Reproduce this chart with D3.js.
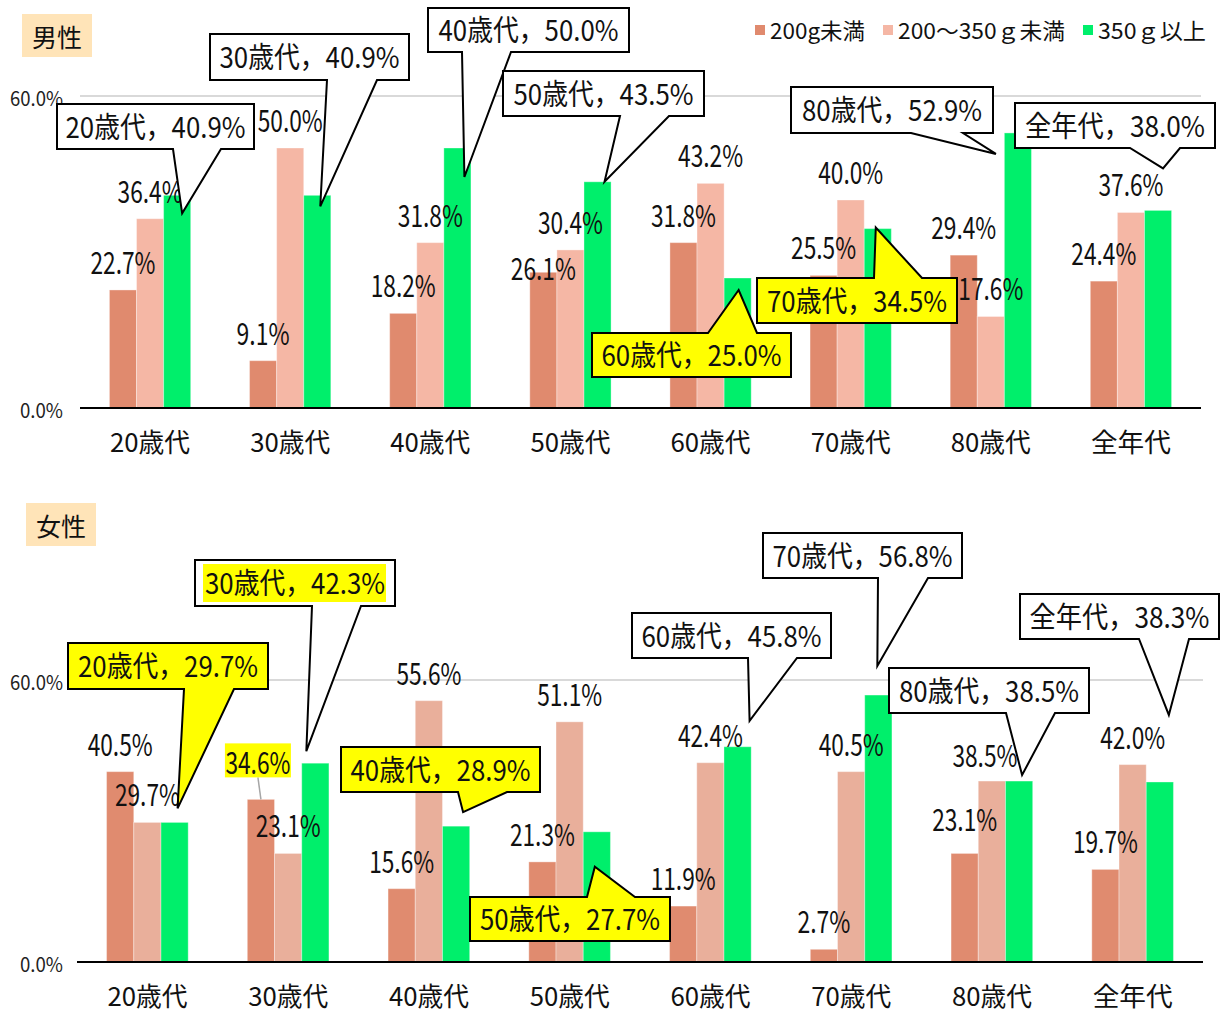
<!DOCTYPE html>
<html>
  <head>
    <meta charset="utf-8">
    <title>野菜摂取量 男女別・年代別</title>
    <script src="https://d3js.org/d3.v7.min.js"></script>
    <style>
      body { margin: 0; background: #fff; }
      svg { display: block; }
    </style>
  </head>
  <body>
    <svg width="1229" height="1012"></svg>
    <script>
      // categories
      const ages = ["20歳代", "30歳代", "40歳代", "50歳代", "60歳代", "70歳代", "80歳代", "全年代"];
      const seriesNames = ["200g未満", "200～350ｇ未満", "350ｇ以上"];
      const yTicks = [0, 60];

      // 男性 (%)
      const maleUnder200 = [22.7, 9.1, 18.2, 26.1, 31.8, 25.5, 29.4, 24.4];
      const maleMid = [36.4, 50.0, 31.8, 30.4, 43.2, 40.0, 17.6, 37.6];
      const maleOver350 = [40.9, 40.9, 50.0, 43.5, 25.0, 34.5, 52.9, 38.0];

      // 女性 (%)
      const femaleUnder200 = [40.5, 34.6, 15.6, 21.3, 11.9, 2.7, 23.1, 19.7];
      const femaleMid = [29.7, 23.1, 55.6, 51.1, 42.4, 40.5, 38.5, 42.0];
      const femaleOver350 = [29.7, 42.3, 28.9, 27.7, 45.8, 56.8, 38.5, 38.3];

      const FONT = "'Noto Sans CJK JP', sans-serif";

      const svg = d3.select("svg");

      // callout boxes for the 350g series (box in px, base of the pointer, tip offset from bar top)
      const maleCallouts = [
        {box: [57, 104, 197, 45], side: "bottom", base: [173, 221], tip: [5, 18], fill: "#fff"},
        {box: [210, 34, 199, 46], side: "bottom", base: [327, 377], tip: [3, 11], fill: "#fff"},
        {box: [428, 8, 201, 44], side: "bottom", base: [462, 511], tip: [7, 29], fill: "#fff"},
        {box: [503, 71, 201, 45], side: "bottom", base: [620, 669], tip: [7, 0], fill: "#fff"},
        {box: [592, 333, 199, 44], side: "top", base: [708, 757], tip: [1, 12], fill: "#ffff00"},
        {box: [757, 278, 200, 45], side: "top", base: [874, 922], tip: [-2, -1], fill: "#ffff00"},
        {box: [791, 87, 202, 46], side: "bottom", base: [911, 963], tip: [-22, 21], fill: "#fff"},
        {box: [1015, 103, 200, 45], side: "bottom", base: [1130, 1180], tip: [5, -42], fill: "#fff"}
      ];
      const femaleCallouts = [
        {box: [68, 643, 200, 46], side: "bottom", base: [184, 234], tip: [3, -14], fill: "#ffff00"},
        {box: [195, 560, 200, 46], side: "bottom", base: [312, 361], tip: [-9, -12], fill: "#fff", mark: true},
        {box: [341, 747, 199, 45], side: "bottom", base: [458, 507], tip: [7, -14], fill: "#ffff00"},
        {box: [470, 897, 200, 44], side: "top", base: [587, 635], tip: [-2, 35], fill: "#ffff00"},
        {box: [632, 613, 199, 45], side: "bottom", base: [748, 797], tip: [12, -26], fill: "#fff"},
        {box: [763, 533, 199, 45], side: "bottom", base: [878, 928], tip: [-1, -29], fill: "#fff"},
        {box: [889, 668, 200, 45], side: "bottom", base: [1006, 1055], tip: [3, -6], fill: "#fff"},
        {box: [1020, 594, 199, 45], side: "bottom", base: [1139, 1189], tip: [9, -67], fill: "#fff"}
      ];

      // label nudges: [series, category, dx, dy, options]
      const maleNudges = [[0, 3, 0, 24]];
      const femaleNudges = [[0, 1, -3, -9, {mark: true, leader: true}], [0, 6, 0, -6], [1, 6, -7, 2]];

      // squeeze a numeric label the way the narrow digits of the original look
      const numWidth = (s, per, extra) => s.replace(/[^0-9]/g, "").length * per + extra;

      function drawPanel(p) {
        const g = svg.append("g");

        const x0 = d3.scaleBand().domain(ages).range(p.xRange).paddingInner(0.42).paddingOuter(0.21);
        const x1 = d3.scaleBand().domain(d3.range(3)).range([0, x0.bandwidth()]);
        const y = d3.scaleLinear().domain([0, 60]).range([p.base, p.top]);

        // title
        g.append("rect").attr("x", p.title[0]).attr("y", p.title[1]).attr("width", 70).attr("height", 43)
          .attr("fill", "#ffe4b8");
        g.append("text").attr("x", p.title[0] + 35).attr("y", p.title[1] + 22)
          .attr("text-anchor", "middle").attr("dominant-baseline", "central")
          .attr("font-family", FONT).attr("font-size", 25).attr("fill", "#111").text(p.name);

        // gridline + y labels
        g.selectAll(".grid").data(yTicks.filter(d => d > 0)).join("line")
          .attr("x1", p.xRange[0]).attr("x2", p.xRange[1])
          .attr("y1", d => y(d)).attr("y2", d => y(d))
          .attr("stroke", "#d9d9d9").attr("stroke-width", 2);
        g.selectAll(".ytick").data(yTicks).join("text")
          .attr("x", 63).attr("y", d => y(d) + 1)
          .attr("text-anchor", "end").attr("dominant-baseline", "central")
          .attr("font-family", FONT).attr("font-size", 20).attr("fill", "#222")
          .attr("lengthAdjust", "spacingAndGlyphs")
          .attr("textLength", d => numWidth(d.toFixed(1), 10, 23))
          .text(d => d.toFixed(1) + "%");

        // bars
        const rows = [];
        p.series.forEach((vals, s) => vals.forEach((v, i) => rows.push({s, i, v})));
        const barX = d => x0(ages[d.i]) + x1(d.s);
        g.selectAll(".bar").data(rows).join("rect")
          .attr("x", barX).attr("width", x1.bandwidth())
          .attr("y", d => y(d.v)).attr("height", d => y(0) - y(d.v))
          .attr("fill", d => p.colors[d.s])
          .attr("stroke", "#fff").attr("stroke-opacity", 0.35).attr("stroke-width", 1);

        // x axis
        g.append("line").attr("x1", p.xRange[0]).attr("x2", p.xRange[1])
          .attr("y1", y(0)).attr("y2", y(0)).attr("stroke", "#000").attr("stroke-width", 2);
        g.selectAll(".xlab").data(ages).join("text")
          .attr("x", d => x0(d) + x0.bandwidth() / 2).attr("y", y(0) + 32)
          .attr("text-anchor", "middle").attr("dominant-baseline", "central")
          .attr("font-family", FONT).attr("font-size", 26).attr("fill", "#111")
          .attr("lengthAdjust", "spacingAndGlyphs").attr("textLength", 80)
          .text(d => d);

        // data labels for the first two series
        const nudge = {};
        p.nudges.forEach(n => nudge[n[0] + "-" + n[1]] = n);
        const labels = rows.filter(d => d.s < 2).map(d => {
          const n = nudge[d.s + "-" + d.i] || [0, 0, 0, 0, {}];
          const cx = barX(d) + x1.bandwidth() / 2;
          return Object.assign({}, d, {cx, lx: cx + n[2], ly: y(d.v) - 29 + n[3], opt: n[4] || {}});
        });
        labels.filter(d => d.opt.leader).forEach(d => {
          g.append("line").attr("x1", d.lx).attr("y1", d.ly + 16).attr("x2", d.cx).attr("y2", y(d.v))
            .attr("stroke", "#a6a6a6").attr("stroke-width", 1.5);
        });
        labels.filter(d => d.opt.mark).forEach(d => {
          g.append("rect").attr("x", d.lx - 33).attr("y", d.ly - 18).attr("width", 66).attr("height", 34)
            .attr("fill", "#ffff00");
        });
        g.selectAll(".vlab").data(labels).join("text")
          .attr("x", d => d.lx).attr("y", d => d.ly)
          .attr("text-anchor", "middle").attr("dominant-baseline", "central")
          .attr("font-family", FONT).attr("font-size", 30).attr("fill", "#111")
          .attr("lengthAdjust", "spacingAndGlyphs")
          .attr("textLength", d => numWidth(d.v.toFixed(1), 12, 29))
          .text(d => d.v.toFixed(1) + "%");

        // callouts for the third series
        p.callouts.forEach((c, i) => {
          const v = p.series[2][i];
          const tx = x0(ages[i]) + x1(2) + x1.bandwidth() / 2 + c.tip[0];
          const ty = y(v) + c.tip[1];
          const [bx, by, bw, bh] = c.box;
          const path = d3.path();
          if (c.side === "bottom") {
            path.moveTo(bx, by); path.lineTo(bx + bw, by); path.lineTo(bx + bw, by + bh);
            path.lineTo(c.base[1], by + bh); path.lineTo(tx, ty); path.lineTo(c.base[0], by + bh);
            path.lineTo(bx, by + bh);
          } else {
            path.moveTo(bx, by); path.lineTo(c.base[0], by); path.lineTo(tx, ty); path.lineTo(c.base[1], by);
            path.lineTo(bx + bw, by); path.lineTo(bx + bw, by + bh); path.lineTo(bx, by + bh);
          }
          path.closePath();
          g.append("path").attr("d", path.toString()).attr("fill", c.fill)
            .attr("stroke", "#000").attr("stroke-width", 2).attr("stroke-linejoin", "miter");
          if (c.mark) {
            g.append("rect").attr("x", bx + 8).attr("y", by + 4).attr("width", bw - 17).attr("height", bh - 8)
              .attr("fill", "#ffff00");
          }
          g.append("text").attr("x", bx + bw / 2).attr("y", by + bh / 2 - 2)
            .attr("text-anchor", "middle").attr("dominant-baseline", "central")
            .attr("font-family", FONT).attr("font-size", 29).attr("fill", "#111")
            .attr("lengthAdjust", "spacingAndGlyphs").attr("textLength", 180)
            .text(ages[i] + "，" + v.toFixed(1) + "%");
        });
      }

      drawPanel({
        name: "男性", title: [22, 14], xRange: [80, 1201], base: 408, top: 96,
        series: [maleUnder200, maleMid, maleOver350],
        colors: ["#e08a6e", "#f5b7a5", "#00ef6b"],
        callouts: maleCallouts, nudges: maleNudges
      });
      drawPanel({
        name: "女性", title: [26, 503], xRange: [77, 1203], base: 962, top: 680,
        series: [femaleUnder200, femaleMid, femaleOver350],
        colors: ["#e08b6f", "#e9af9b", "#00ef6b"],
        callouts: femaleCallouts, nudges: femaleNudges
      });

      // legend
      const legendX = [755, 883, 1083];
      const legendW = [95, 167, 108];
      const legend = svg.append("g");
      seriesNames.forEach((name, i) => {
        legend.append("rect").attr("x", legendX[i]).attr("y", 25).attr("width", 10).attr("height", 10)
          .attr("fill", ["#e08a6e", "#f5b7a5", "#00ef6b"][i]);
        legend.append("text").attr("x", legendX[i] + 15).attr("y", 29)
          .attr("dominant-baseline", "central")
          .attr("font-family", FONT).attr("font-size", 22).attr("fill", "#111")
          .attr("lengthAdjust", "spacingAndGlyphs").attr("textLength", legendW[i])
          .text(name);
      });
    </script>
  </body>
</html>
